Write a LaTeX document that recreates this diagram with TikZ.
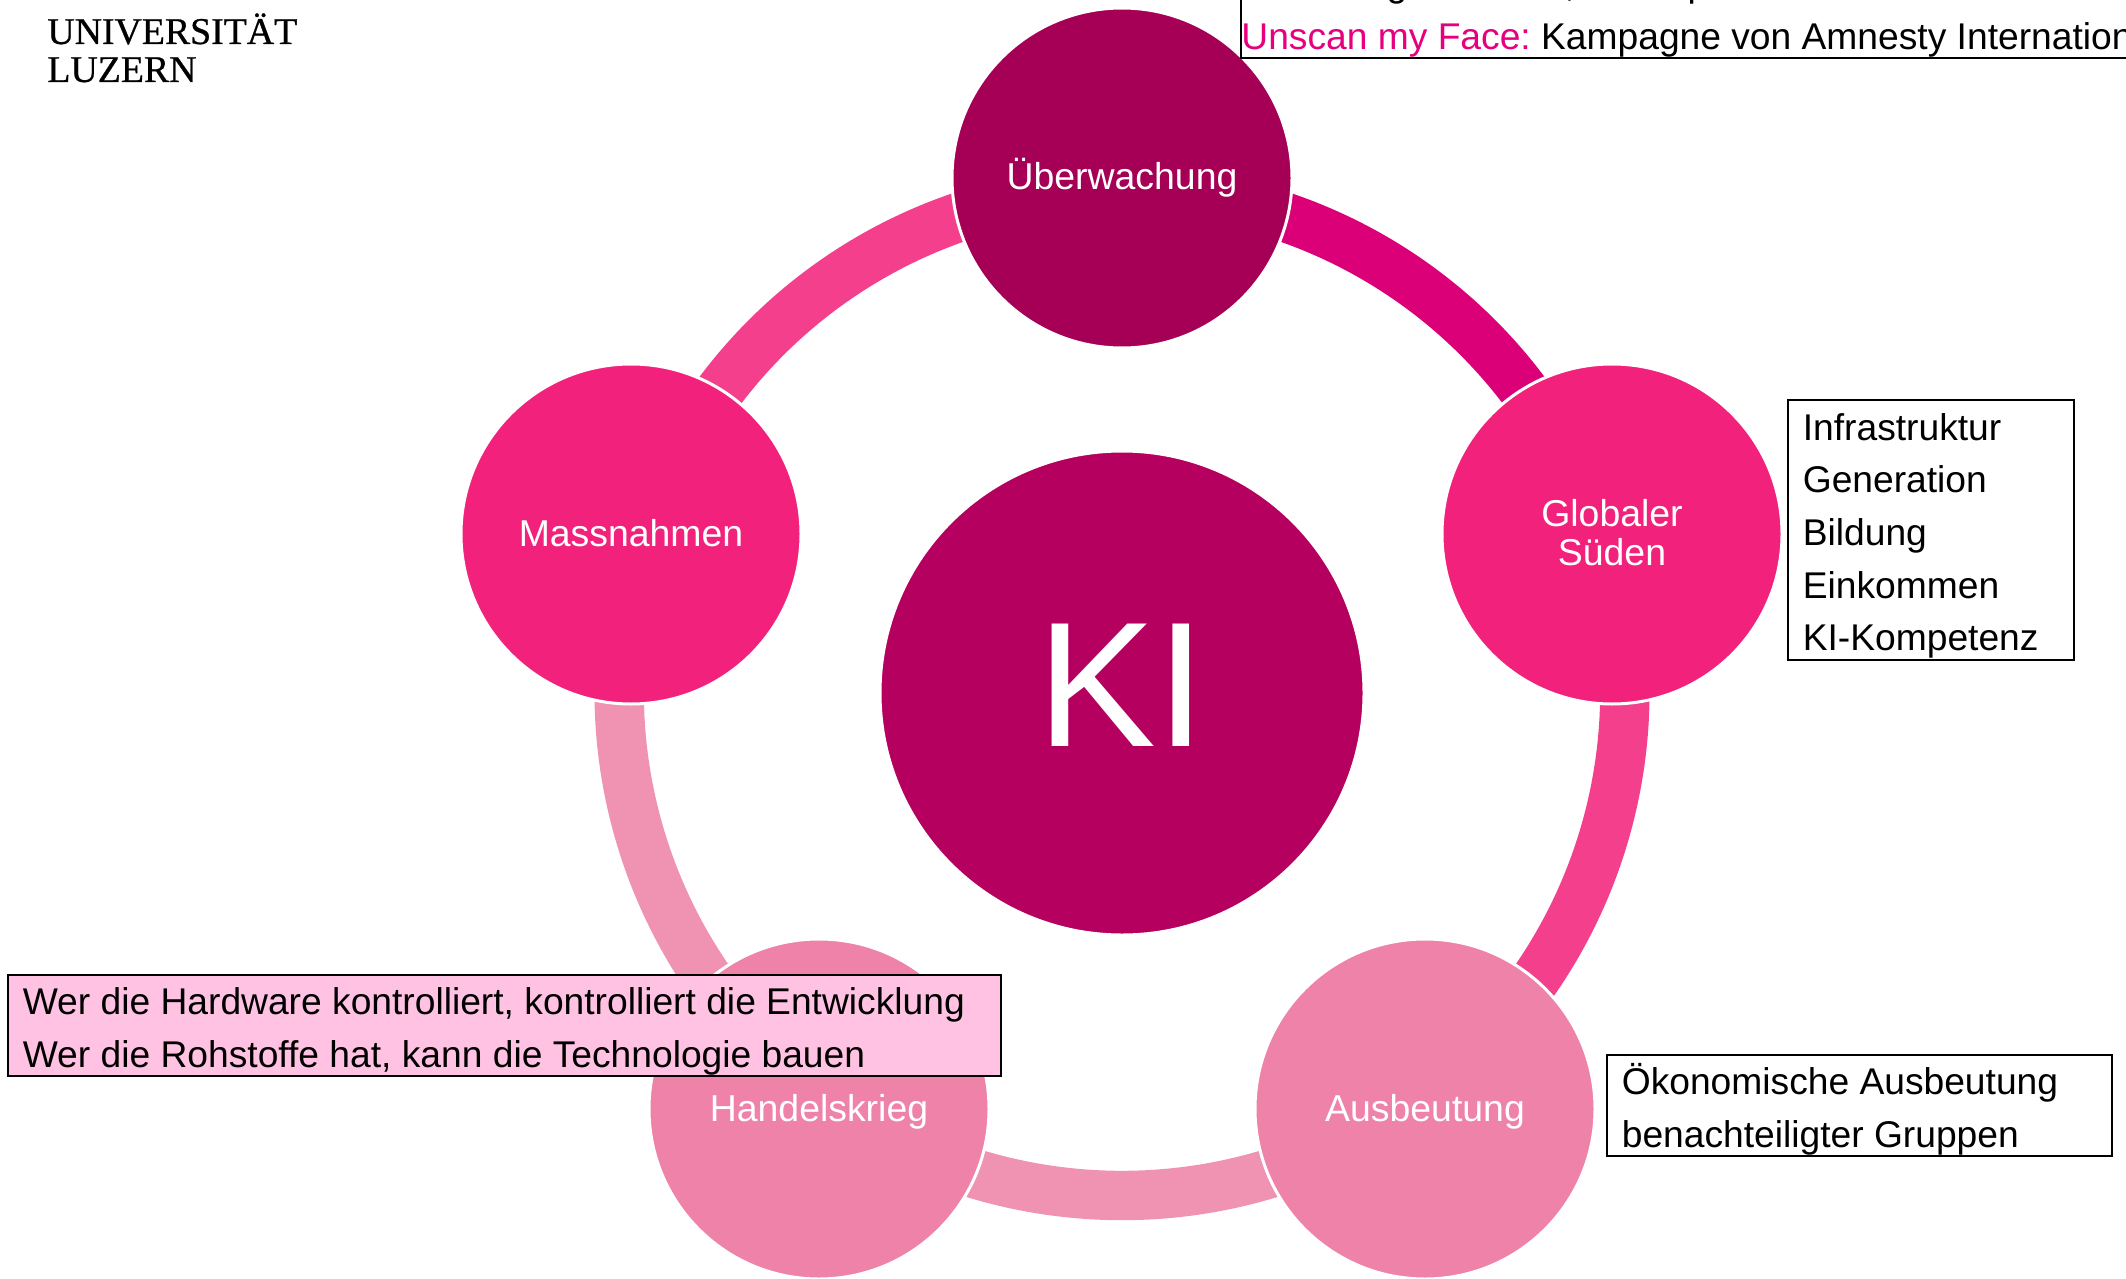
\documentclass[tikz,border=0pt]{standalone}
\usepackage{fontspec}
\setmainfont{Liberation Sans}
\newfontfamily\logofont[FakeBold=0.7]{Liberation Serif}
\usetikzlibrary{backgrounds}
\frenchspacing
\definecolor{kicol}{HTML}{B5005F}
\definecolor{uebercol}{HTML}{A50055}
\definecolor{suedcol}{HTML}{F2217B}
\definecolor{hellcol}{HTML}{EF82A8}
\definecolor{arcdark}{HTML}{DC0078}
\definecolor{arcmid}{HTML}{F43F8C}
\definecolor{arclight}{HTML}{F093B3}
\definecolor{boxpink}{HTML}{FFC2E3}
\definecolor{textpink}{HTML}{E6007E}
\tikzset{
    kreis/.style={circle, draw=white, line width=1.5pt, minimum size=170pt, inner sep=0pt,
        text=white, align=center, font=\fontsize{18.7}{19.5}\selectfont},
    einzeilig/.style={text height=13.5pt, text depth=1.5pt},
    ringarc/.style={line width=24.7pt, bend left=36, looseness=0.94},
    infobox/.style={draw=black, line width=0.8pt, anchor=north west, inner xsep=7.5pt, inner ysep=0pt,
        align=flush left, font=\fontsize{18.6}{26.3}\selectfont,
        execute at begin node=\rule{0pt}{19.5pt}},
    randtext/.style={anchor=base, inner sep=0pt, font=\fontsize{18.6}{26.3}\selectfont},
}
\begin{document}
\begin{tikzpicture}[x=0.5pt,y=-0.5pt]
    \useasboundingbox (0,0) rectangle (2126,1279);

    % Kreise
    \node[kreis, fill=kicol, minimum size=242pt, font=\fontsize{89}{89}\selectfont, text depth=8pt] (ki) at (1122,693) {KI};
    \node[kreis, einzeilig, fill=uebercol] (ueber) at (1122,178) {Überwachung};
    \node[kreis, fill=suedcol] (sueden) at (1612,534) {Globaler\\Süden\rule[-2pt]{0pt}{2pt}};
    \node[kreis, einzeilig, fill=hellcol] (ausb) at (1425,1109) {Ausbeutung};
    \node[kreis, einzeilig, fill=hellcol] (handel) at (819,1109) {Handelskrieg};
    \node[kreis, einzeilig, fill=suedcol] (mass) at (631,534) {Massnahmen};

    % Ring hinter den Kreisen
    \coordinate (ringueber) at ([shift={(-90:503)}]ki.center);
    \coordinate (ringsueden) at ([shift={(-18:503)}]ki.center);
    \coordinate (ringausb) at ([shift={(54:503)}]ki.center);
    \coordinate (ringhandel) at ([shift={(126:503)}]ki.center);
    \coordinate (ringmass) at ([shift={(198:503)}]ki.center);
    \begin{scope}[on background layer]
        \draw[ringarc, draw=arcdark] (ringueber) to (ringsueden);
        \draw[ringarc, draw=arcmid] (ringsueden) to (ringausb);
        \draw[ringarc, draw=arclight] (ringausb) to (ringhandel);
        \draw[ringarc, draw=arclight] (ringhandel) to (ringmass);
        \draw[ringarc, draw=arcmid] (ringmass) to (ringueber);
    \end{scope}

    % Logo
    \node[anchor=base west, inner sep=0pt, align=left, font=\logofont\fontsize{18.9}{19}\selectfont] (logo)
        at (47,82) {UNIVERSITÄT\\LUZERN};

    % Textkästen
    \node[draw=black, line width=0.8pt, anchor=south west, minimum width=480pt, minimum height=100pt] (top) at (1240,59) {};
    \node[randtext, anchor=base west] (unscan) at (1241,50)
        {\textcolor{textpink}{Unscan my Face:} Kampagne von Amnesty International};
    \node[randtext] (topg) at (1397,-3) {g};
    \node[randtext] (topk) at (1570,-3) {,};
    \node[randtext] (topp) at (1698,-3) {p};

    \node[infobox, minimum width=143pt, minimum height=130pt, text width=128pt] (faktor) at (1787,399)
        {Infrastruktur\\Generation\\Bildung\\Einkommen\\KI-Kompetenz};
    \node[infobox, minimum width=252.5pt, minimum height=50.5pt, text width=237.5pt] (oeko) at (1606,1054)
        {Ökonomische Ausbeutung\\benachteiligter Gruppen};
    \node[infobox, fill=boxpink, minimum width=496.5pt, minimum height=50.5pt, text width=481.5pt] (hardware) at (7,974)
        {Wer die Hardware kontrolliert, kontrolliert die Entwicklung\\Wer die Rohstoffe hat, kann die Technologie bauen};
\end{tikzpicture}
\end{document}
